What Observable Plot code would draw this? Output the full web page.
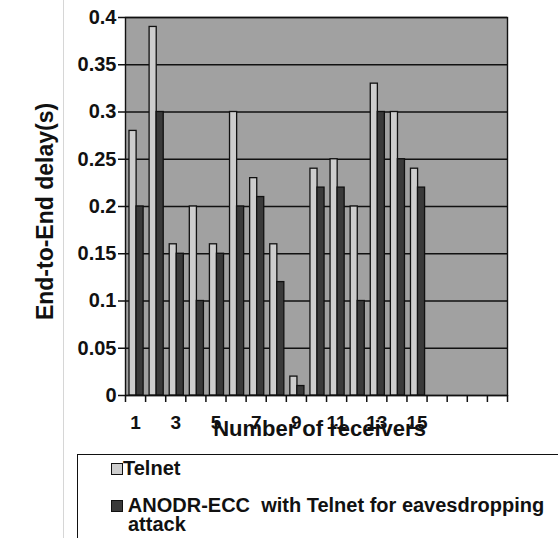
<!DOCTYPE html>
<html><head><meta charset="utf-8">
<script src="https://cdn.jsdelivr.net/npm/d3@7"></script>
<script src="https://cdn.jsdelivr.net/npm/@observablehq/plot@0.6"></script>
<style>
body{margin:0;background:#fff;font-family:"Liberation Sans",Arial,sans-serif;}
#wrap{position:relative;width:558px;height:538px;overflow:hidden;background:#fff;}
#scanline{position:absolute;left:63px;top:0;width:1px;height:538px;background:#d6d6d6;}
#chart{position:absolute;left:0;top:0;}
#legend{position:absolute;left:77px;top:454px;width:600px;height:120px;border-left:1.5px solid #111;border-top:1.5px solid #111;}
.item{position:absolute;left:50px;width:455px;text-indent:-17px;font-weight:bold;font-size:20px;line-height:19px;color:#111;white-space:pre-wrap;}
.sw{display:inline-block;width:10px;height:10px;border:1px solid #111;vertical-align:0px;text-indent:0;}
</style></head>
<body>
<div id="wrap"><div id="scanline"></div><div id="chart"></div><div id="legend"></div></div>
<script>
const categories = [1,2,3,4,5,6,7,8,9,10,11,12,13,14,15];
const telnet = [0.28,0.39,0.16,0.20,0.16,0.30,0.23,0.16,0.02,0.24,0.25,0.20,0.33,0.30,0.24];
const anodr  = [0.20,0.30,0.15,0.10,0.15,0.20,0.21,0.12,0.01,0.22,0.22,0.10,0.30,0.25,0.22];
const seriesNames = ["Telnet", "ANODR-ECC  with Telnet for eavesdropping attack"];
const seriesColors = ["#cdcdcd", "#3a3a3a"];
const xSlots = 19;                 // category slots on the axis (only 15 used)
const xTickLabels = [1,3,5,7,9,11,13,15];
const yTicks = [0,0.05,0.1,0.15,0.2,0.25,0.3,0.35,0.4];
const xTitle = "Number of receivers";
const yTitle = "End-to-End delay(s)";

const rows = [];
categories.forEach((c,i)=>{
  rows.push({cat:c, series:seriesNames[0], value:telnet[i]});
  rows.push({cat:c, series:seriesNames[1], value:anodr[i]});
});
const boundaries = d3.range(0.5, xSlots + 1, 1);

const plot = Plot.plot({
  width: 558, height: 440,
  marginLeft: 125, marginRight: 51, marginTop: 17, marginBottom: 45,
  style: {fontFamily: "'Liberation Sans', Arial, sans-serif", fontWeight: "bold", fontSize: "19px", color: "#111", background: "transparent"},
  x: {domain: [0.5, xSlots + 0.5], axis: null},
  y: {domain: [0, 0.4], axis: null},
  marks: [
    Plot.frame({fill: "#a1a1a1"}),
    Plot.ruleY(yTicks, {stroke: "#111", strokeWidth: 1.4}),
    Plot.rectY(rows.filter(d=>d.series===seriesNames[0]), {x1: d=>d.cat-0.5, x2: d=>d.cat+0.5, y: "value", fill: seriesColors[0], stroke: "#111", strokeWidth: 1.3, insetLeft: 4, insetRight: 9}),
    Plot.rectY(rows.filter(d=>d.series===seriesNames[1]), {x1: d=>d.cat-0.5, x2: d=>d.cat+0.5, y: "value", fill: seriesColors[1], stroke: "#111", strokeWidth: 1.3, insetLeft: 11, insetRight: 2}),
    Plot.frame({stroke: "#111", strokeWidth: 1.4}),
    Plot.axisY({ticks: yTicks, tickSize: 7, tickPadding: 2, tickFormat: d=>String(d), stroke: "#111", strokeWidth: 1.5, fontSize: 20, fontWeight: "bold", label: null}),
    Plot.axisX({ticks: boundaries, tickSize: 7, tickFormat: ()=>"", stroke: "#111", strokeWidth: 1.5, label: null}),
    Plot.axisX({ticks: xTickLabels, tickSize: 0, tickPadding: 20, fontSize: 19, fontWeight: "bold", label: null}),
    Plot.text([xTitle], {frameAnchor: "bottom", dy: 33, dx: 3, fontSize: 22, fontWeight: "bold", lineAnchor: "middle", fill: "#111"}),
    Plot.text([yTitle], {frameAnchor: "left", dx: -80, dy: 5, rotate: -90, textAnchor: "middle", fontSize: 23, fontWeight: "bold", lineAnchor: "middle", fill: "#111"})
  ]
});
document.getElementById("chart").appendChild(plot);

const legend = document.getElementById("legend");
const tops = [4, 41];
seriesNames.forEach((name, i) => {
  const div = document.createElement("div");
  div.className = "item";
  div.style.top = tops[i] + "px";
  const sw = document.createElement("span");
  sw.className = "sw";
  sw.style.background = seriesColors[i];
  div.appendChild(sw);
  div.appendChild(document.createTextNode((i === 0 ? "" : " ") + name));
  legend.appendChild(div);
});
</script>
</body></html>
